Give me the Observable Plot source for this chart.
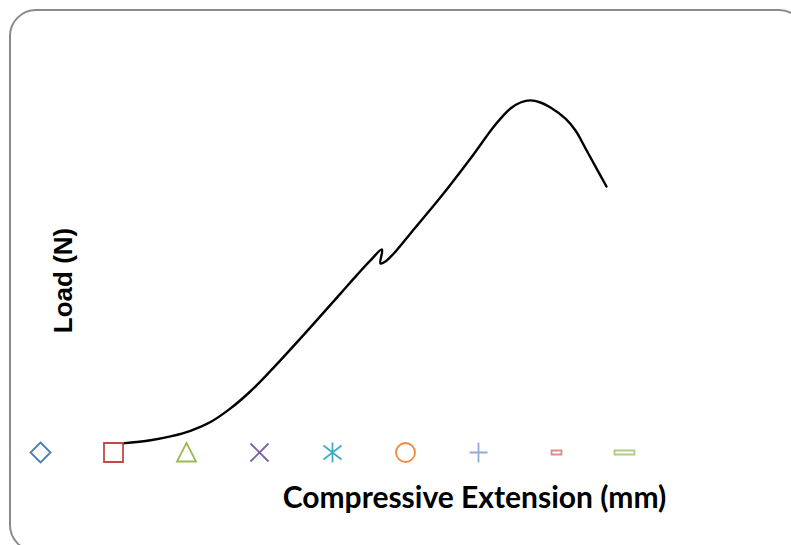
<!DOCTYPE html>
<html>
<head>
<meta charset="utf-8">
<script src="https://cdn.jsdelivr.net/npm/d3@7"></script>
<script src="https://cdn.jsdelivr.net/npm/@observablehq/plot@0.6"></script>
<style>
  html, body { margin: 0; padding: 0; background: #fff; overflow: hidden; }
  #wrap { position: relative; width: 791px; height: 545px; overflow: hidden; }
  #border { position: absolute; left: 9px; top: 9px; width: 797px; height: 543px;
            border: 2px solid #8a8a8a; border-radius: 27px; box-sizing: border-box; }
  #wrap svg { position: absolute; left: 0; }
</style>
</head>
<body>
<div id="wrap"><div id="border"></div></div>
<script>
// Load–extension curve (mm, N)
const extension = [0, 0.56, 0.96, 1.36, 1.76, 2.16, 2.56, 2.96, 3.56, 4.36,
  4.70, 4.96, 5.19, 5.16, 5.26, 5.46, 5.76, 6.36, 6.96, 7.46,
  7.76, 7.96, 8.16, 8.36, 8.56, 8.86, 9.06, 9.26, 9.46, 9.68];
const load = [6, 15, 26, 42, 67, 106, 155, 213, 306, 434,
  489, 529, 560, 520, 526, 554, 606, 709, 820, 917,
  963, 980, 986, 980, 966, 934, 900, 849, 797, 740];

// legend markers (unlabelled series)
const seriesNames = ["s1", "s2", "s3", "s4", "s5", "s6", "s7", "s8", "s9"];
const markerColors = ["#4A7EBB", "#BE4B48", "#98B954", "#7D60A0", "#46AAC5",
  "#F08A3A", "#93AADA", "#D98E8C", "#AFCB85"];

const xTitle = "Compressive Extension (mm)";
const yTitle = "Load (N)";

const pts = extension.map((e, i) => ({e, l: load[i]}));

function poly(ctx, p, close) {
  ctx.moveTo(p[0][0], p[0][1]);
  for (let i = 1; i < p.length; i++) ctx.lineTo(p[i][0], p[i][1]);
  if (close) ctx.closePath();
}
const markerSymbols = [
  {draw(c) { poly(c, [[0,-10],[10,0],[0,10],[-10,0]], true); }},
  {draw(c) { poly(c, [[-9.5,-9.5],[9.5,-9.5],[9.5,9.5],[-9.5,9.5]], true); }},
  {draw(c) { poly(c, [[0,-9.5],[9.5,9],[-9.5,9]], true); }},
  {draw(c) { poly(c, [[-9,-9],[9,9]]); poly(c, [[-9,9],[9,-9]]); }},
  {draw(c) { poly(c, [[0,-10],[0,10]]); poly(c, [[-9,-7],[9,7]]); poly(c, [[-9,7],[9,-7]]); }},
  {draw(c) { c.moveTo(9.5,0); c.arc(0,0,9.5,0,2*Math.PI); c.closePath(); }},
  {draw(c) { poly(c, [[-9,0],[9,0]]); poly(c, [[0,-10],[0,10]]); }},
  {draw(c) { poly(c, [[0,-2],[10,-2],[10,2],[0,2]], true); }},
  {draw(c) { poly(c, [[-10,-2],[10,-2],[10,2],[-10,2]], true); }}
];

const main = Plot.plot({
  width: 791, height: 545,
  marginLeft: 122, marginRight: 169, marginTop: 95, marginBottom: 100,
  style: {background: "transparent", overflow: "visible"},
  x: {domain: [0, 10], axis: null},
  y: {domain: [0, 1000], axis: null},
  marks: [
    Plot.line(pts, {x: "e", y: "l", curve: "catmull-rom", stroke: "#000", strokeWidth: 2.4}),
    Plot.text([xTitle], {text: d => d, frameAnchor: "bottom", dx: 102, dy: 62,
      fontSize: 30, fontWeight: "bold", fontFamily: "Lato, 'Open Sans', sans-serif", fill: "#000"}),
    Plot.text([yTitle], {text: d => d, frameAnchor: "left", textAnchor: "middle", dx: -59, dy: 10, rotate: -90,
      fontSize: 26, fontWeight: "bold", fontFamily: "'Liberation Sans', Arial, sans-serif", fill: "#000"})
  ]
});
main.style.top = "0px";

const legend = Plot.plot({
  width: 791, height: 40,
  marginLeft: 38, marginRight: 165, marginTop: 0, marginBottom: 0,
  style: {background: "transparent", overflow: "visible"},
  x: {type: "point", domain: seriesNames, padding: 0, axis: null},
  color: {domain: seriesNames, range: markerColors},
  symbol: {domain: seriesNames, range: markerSymbols},
  marks: [
    Plot.dot(seriesNames, {x: d => d, symbol: d => d, stroke: d => d, fill: "none", strokeWidth: 1.8})
  ]
});
legend.style.top = "432px";

const wrap = document.getElementById("wrap");
wrap.appendChild(main);
wrap.appendChild(legend);
</script>
</body>
</html>
